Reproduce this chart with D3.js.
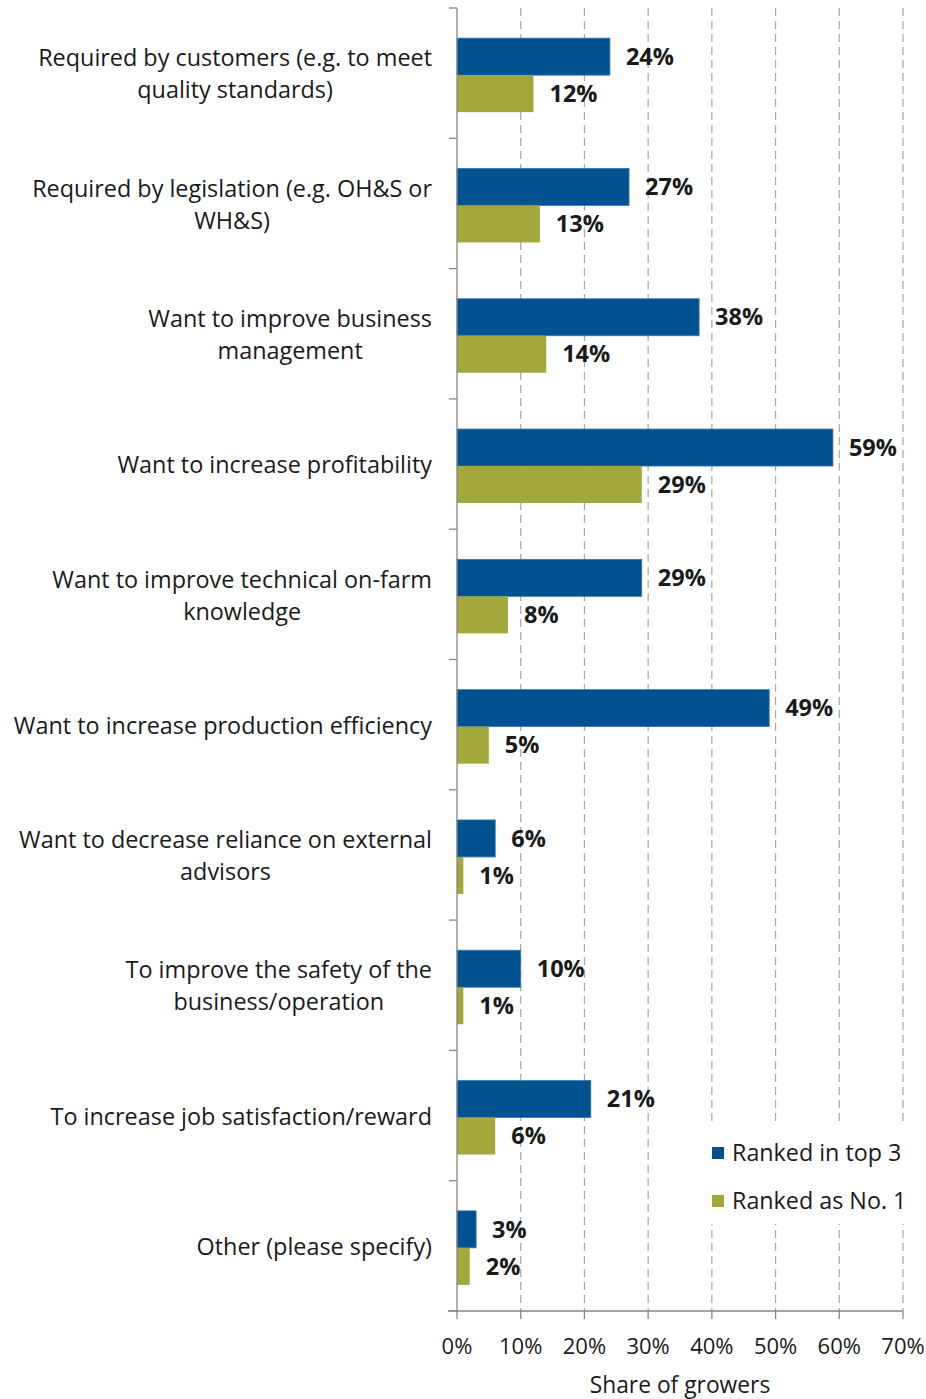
<!DOCTYPE html>
<html>
<head>
<meta charset="utf-8">
<script src="https://cdn.jsdelivr.net/npm/d3@7"></script>
<style>
  body { margin: 0; background: #fff; }
  svg { display: block; }
  text { font-family: "Open Sans", Lato, sans-serif; fill: #1a1a1a; }
</style>
</head>
<body>
<svg id="chart" width="926" height="1399"></svg>
<script>
// Reasons growers gave, one entry per row (lines split where the label wraps)
const categories = [
  ["Required by customers (e.g. to meet", "quality standards)"],
  ["Required by legislation (e.g. OH&S or", "WH&S)"],
  ["Want to improve business", "management"],
  ["Want to increase profitability"],
  ["Want to improve technical on-farm", "knowledge"],
  ["Want to increase production efficiency"],
  ["Want to decrease reliance on external", "advisors"],
  ["To improve the safety of the", "business/operation"],
  ["To increase job satisfaction/reward"],
  ["Other (please specify)"]
];
const seriesNames = ["Ranked in top 3", "Ranked as No. 1"];
const rankedTop3 = [24, 27, 38, 59, 29, 49, 6, 10, 21, 3];
const rankedNo1 = [12, 13, 14, 29, 8, 5, 1, 1, 6, 2];
const xTicks = [0, 10, 20, 30, 40, 50, 60, 70];
const xTitle = "Share of growers";

const colors = ["#00518F", "#A2A83C"];

const svg = d3.select("#chart");
const plotLeft = 457, plotRight = 903, plotTop = 8, plotBottom = 1311;

const x = d3.scaleLinear().domain([0, 70]).range([plotLeft, plotRight]);
const y = d3.scaleBand().domain(d3.range(categories.length)).range([plotTop, plotBottom]);
const barH = 37;
const series = [rankedTop3, rankedNo1];

// dashed gridlines
svg.append("g").selectAll("line").data(xTicks.slice(1)).join("line")
  .attr("x1", d => x(d)).attr("x2", d => x(d))
  .attr("y1", plotTop).attr("y2", plotBottom)
  .attr("stroke", "#a6a6a6").attr("stroke-width", 1.2)
  .attr("stroke-dasharray", "8,5");

// bars
series.forEach((vals, s) => {
  svg.append("g").selectAll("rect").data(vals).join("rect")
    .attr("x", x(0))
    .attr("y", (d, i) => y(i) + y.bandwidth() / 2 - barH + 2 + s * barH)
    .attr("width", d => x(d) - x(0))
    .attr("height", barH)
    .attr("fill", colors[s])
    .attr("stroke", s === 0 ? "#3a78b0" : "none")
    .attr("stroke-width", 0.8);

  svg.append("g").selectAll("text").data(vals).join("text")
    .attr("x", d => x(d) + 16)
    .attr("y", (d, i) => y(i) + y.bandwidth() / 2 - barH / 2 + 2 + s * barH)
    .attr("dy", "0.35em")
    .attr("font-size", 23.5)
    .attr("font-weight", "bold")
    .text(d => d + "%");
});

// y axis with outer ticks at category boundaries
const axisColor = "#868686";
svg.append("line").attr("x1", plotLeft).attr("x2", plotLeft).attr("y1", plotTop).attr("y2", plotBottom)
  .attr("stroke", axisColor).attr("stroke-width", 1.3);
svg.append("g").selectAll("line").data(d3.range(categories.length + 1)).join("line")
  .attr("x1", plotLeft - 8).attr("x2", plotLeft)
  .attr("y1", i => plotTop + i * y.step()).attr("y2", i => plotTop + i * y.step())
  .attr("stroke", axisColor).attr("stroke-width", 1.3);

// x axis
svg.append("line").attr("x1", plotLeft - 9).attr("x2", plotRight).attr("y1", plotBottom).attr("y2", plotBottom)
  .attr("stroke", axisColor).attr("stroke-width", 1.3);
svg.append("g").selectAll("line").data(xTicks).join("line")
  .attr("x1", d => x(d)).attr("x2", d => x(d))
  .attr("y1", plotBottom).attr("y2", plotBottom + 8)
  .attr("stroke", axisColor).attr("stroke-width", 1.3);
svg.append("g").selectAll("text").data(xTicks).join("text")
  .attr("x", d => x(d)).attr("y", 1346)
  .attr("dy", "0.35em").attr("text-anchor", "middle")
  .attr("font-size", 22)
  .text(d => d + "%");
svg.append("text").attr("x", x(35)).attr("y", 1385).attr("dy", "0.35em")
  .attr("text-anchor", "middle").attr("font-size", 22.8).text(xTitle);

// category labels: block right-aligned to the axis, lines centred within the block
const labelRight = 432, lineGap = 32;
categories.forEach((lines, i) => {
  const cy = y(i) + y.bandwidth() / 2 + 1;
  const g = svg.append("g");
  const texts = lines.map((ln, j) => g.append("text")
    .attr("y", cy + (j - (lines.length - 1) / 2) * lineGap)
    .attr("dy", "0.35em")
    .attr("font-size", 23.4)
    .attr("text-anchor", "middle")
    .text(ln));
  const w = d3.max(texts, t => t.node().getComputedTextLength());
  texts.forEach(t => t.attr("x", labelRight - w / 2));
});

// legend on a white box that hides the gridlines behind it
const legend = svg.append("g");
legend.append("rect").attr("x", 704).attr("y", 1126).attr("width", 222).attr("height", 98)
  .attr("fill", "#fff");
seriesNames.forEach((name, s) => {
  const ly = 1153 + s * 48;
  legend.append("rect").attr("x", 712).attr("y", ly - 6).attr("width", 12).attr("height", 12)
    .attr("fill", colors[s]);
  legend.append("text").attr("x", 732).attr("y", ly).attr("dy", "0.35em")
    .attr("font-size", 23.3).text(name);
});
</script>
</body>
</html>
